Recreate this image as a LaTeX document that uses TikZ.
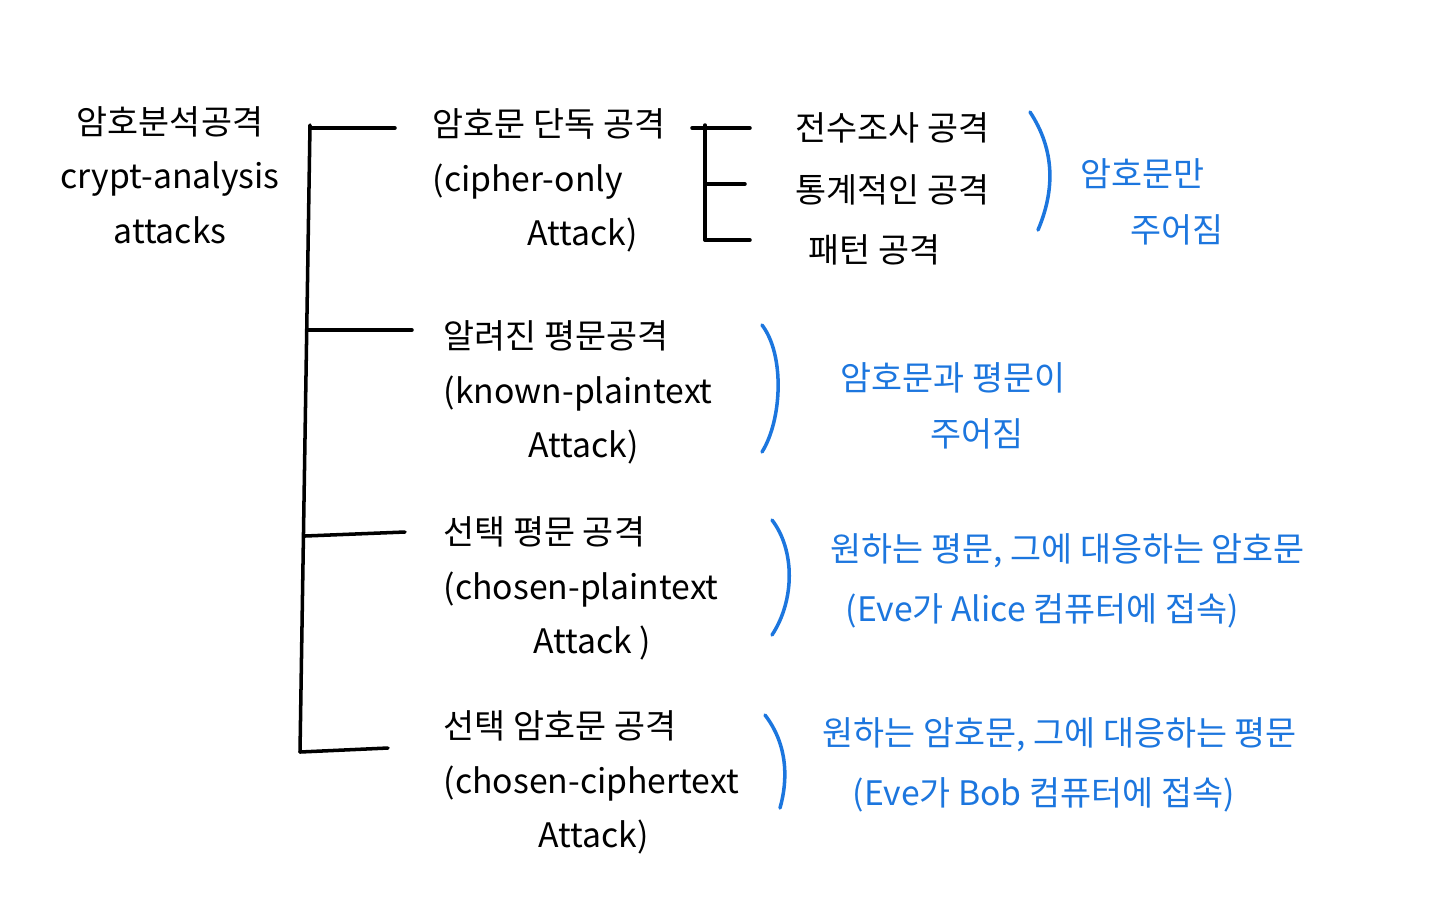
\documentclass[tikz,border=0pt]{standalone}
\usepackage{fontspec}
\setmainfont{Noto Sans CJK KR}
\usepackage{tikz}
\usetikzlibrary{positioning,calc}
\definecolor{penBlue}{RGB}{28,118,222}

\begin{document}
\begin{tikzpicture}[
  line cap=round, line join=round,
  txt/.style={inner sep=0pt, align=left, font=\fontsize{9.6}{15.5}\selectfont},
  note/.style={txt, text=penBlue, font=\fontsize{9.6}{16}\selectfont},
  tree/.style={line width=1pt, black},
  paren/.style={line width=1pt, penBlue},
]
\useasboundingbox (0,0) rectangle (14.4,-9);
% root
\node[txt, align=center] (root) at (1.7,-1.75)
  {암호분석공격\\crypt-analysis\\attacks};
% attack kinds
\node[txt, anchor=north west] (conly) at (4.32,-1.08)
  {암호문 단독 공격\\(cipher-only\\\hspace*{0.95cm}Attack)};
\node[txt, anchor=north west] (kplain) at (4.43,-3.2)
  {알려진 평문공격\\(known-plaintext\\\hspace*{0.85cm}Attack)};
\node[txt, anchor=north west] (cplain) at (4.43,-5.16)
  {선택 평문 공격\\(chosen-plaintext\\\hspace*{0.9cm}Attack )};
\node[txt, anchor=north west] (cciph) at (4.43,-7.1)
  {선택 암호문 공격\\(chosen-ciphertext\\\hspace*{0.95cm}Attack)};
% cipher-only subkinds
\node[txt, anchor=west] (brute) at (7.95,-1.28) {전수조사 공격};
\node[txt, anchor=west] (stat) at (7.95,-1.9) {통계적인 공격};
\node[txt, anchor=west] (pattern) at (8.08,-2.5) {패턴 공격};
% notes
\node[note, anchor=north west] (n1) at (10.8,-1.58)
  {암호문만\\\hspace*{0.5cm}주어짐};
\node[note, anchor=north west] (n2) at (8.4,-3.62)
  {암호문과 평문이\\\hspace*{0.9cm}주어짐};
\node[note, anchor=north west] (n3) at (8.3,-5.33)
  {원하는 평문, 그에 대응하는 암호문\\[1pt]\hspace*{0.15cm}(Eve가 Alice 컴퓨터에 접속)};
\node[note, anchor=north west] (n4) at (8.22,-7.17)
  {원하는 암호문, 그에 대응하는 평문\\[1pt]\hspace*{0.3cm}(Eve가 Bob 컴퓨터에 접속)};
% tree
\coordinate (top) at (3.1,-1.25);
\coordinate (bot) at (3.0,-7.52);
\coordinate (e1) at (3.95,-1.28);
\coordinate (e2) at (4.12,-3.30);
\coordinate (e3) at (4.05,-5.32);
\coordinate (e4) at (3.88,-7.48);
\draw[tree] (top) -- (bot);
\draw[tree] (3.1,-1.28) -- (e1);
\draw[tree] (3.08,-3.30) -- (e2);
\draw[tree] (3.05,-5.36) -- (e3);
\draw[tree] (bot) -- (e4);
% subtree
\coordinate (s0) at (7.05,-1.25);
\coordinate (s3) at (7.05,-2.4);
\draw[tree] (s0) -- (s3);
\draw[tree] (6.92,-1.28) -- (brute.west -| 7.5,0);
\draw[tree] (7.05,-1.84) -- (7.45,-1.84);
\draw[tree] (s3) -- (7.5,-2.4);
% braces
\draw[paren] (10.3,-1.12) .. controls (10.55,-1.5) and (10.55,-1.9) .. (10.38,-2.3);
\draw[paren] (7.62,-3.25) .. controls (7.85,-3.55) and (7.82,-4.2) .. (7.62,-4.52);
\draw[paren] (7.72,-5.2) .. controls (7.95,-5.5) and (7.95,-6.0) .. (7.72,-6.35);
\draw[paren] (7.65,-7.15) .. controls (7.88,-7.45) and (7.88,-7.8) .. (7.8,-8.08);
\end{tikzpicture}
\end{document}
